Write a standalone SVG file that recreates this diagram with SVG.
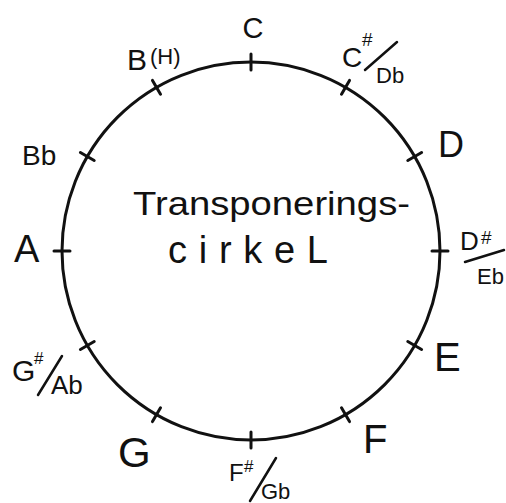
<svg xmlns="http://www.w3.org/2000/svg" width="506" height="503" viewBox="0 0 506 503">
<style>
text{font-family:"Liberation Sans","DejaVu Sans",sans-serif;fill:#111}
.c{fill:none;stroke:#111;stroke-width:3}
.t{stroke:#111;stroke-width:3;stroke-linecap:round}
.s{stroke:#111;stroke-width:2.5;stroke-linecap:round}
</style>
<rect width="506" height="503" fill="#fff"/>
<g id="circle"><circle class="c" cx="251" cy="251" r="189"/></g>
<g id="title">
<text x="133" y="215" font-size="34" textLength="277" lengthAdjust="spacingAndGlyphs">Transponerings-</text>
<text x="168" y="263" font-size="38" textLength="160">cirkeL</text>
</g>
<g id="node-C"><line class="t" x1="251" y1="54" x2="251" y2="70"/><text x="253" y="38" font-size="29" text-anchor="middle">C</text></g>
<g id="node-Cs"><line class="t" x1="341.5" y1="94.2" x2="349.5" y2="80.4"/><text x="342" y="67" font-size="28">C</text><text x="362" y="46" font-size="19">#</text><line class="s" x1="365" y1="70" x2="397" y2="42"/><text x="376" y="83" font-size="22">Db</text></g>
<g id="node-D"><line class="t" x1="407.8" y1="160.5" x2="421.6" y2="152.5"/><text x="438" y="157" font-size="36">D</text></g>
<g id="node-Ds"><line class="t" x1="432" y1="251" x2="448" y2="251"/><text x="460" y="250" font-size="26">D</text><text x="481" y="244" font-size="19">#</text><line class="s" x1="465" y1="262" x2="504" y2="250"/><text x="477" y="284" font-size="22">Eb</text></g>
<g id="node-E"><line class="t" x1="407.8" y1="341.5" x2="421.6" y2="349.5"/><text x="434" y="371" font-size="40">E</text></g>
<g id="node-F"><line class="t" x1="341.5" y1="407.8" x2="349.5" y2="421.6"/><text x="363" y="453" font-size="40">F</text></g>
<g id="node-Fs"><line class="t" x1="251" y1="432" x2="251" y2="448"/><text x="229" y="481" font-size="24">F</text><text x="244" y="472" font-size="17">#</text><line class="s" x1="250" y1="501" x2="276" y2="458"/><text x="261" y="499" font-size="22">Gb</text></g>
<g id="node-G"><line class="t" x1="160.5" y1="407.8" x2="152.5" y2="421.6"/><text x="118" y="467" font-size="42">G</text></g>
<g id="node-Gs"><line class="t" x1="94.2" y1="341.5" x2="80.4" y2="349.5"/><text x="12" y="381" font-size="30">G</text><text x="34" y="364" font-size="17">#</text><line class="s" x1="38" y1="395" x2="62" y2="356"/><text x="51" y="394" font-size="26">Ab</text></g>
<g id="node-A"><line class="t" x1="70" y1="251" x2="54" y2="251"/><text x="14" y="262" font-size="38">A</text></g>
<g id="node-Bb"><line class="t" x1="94.2" y1="160.5" x2="80.4" y2="152.5"/><text x="22" y="165" font-size="28">Bb</text></g>
<g id="node-B"><line class="t" x1="160.5" y1="94.2" x2="152.5" y2="80.4"/><text x="127" y="70" font-size="30">B</text><text x="150" y="64" font-size="22">(H)</text></g>
</svg>
